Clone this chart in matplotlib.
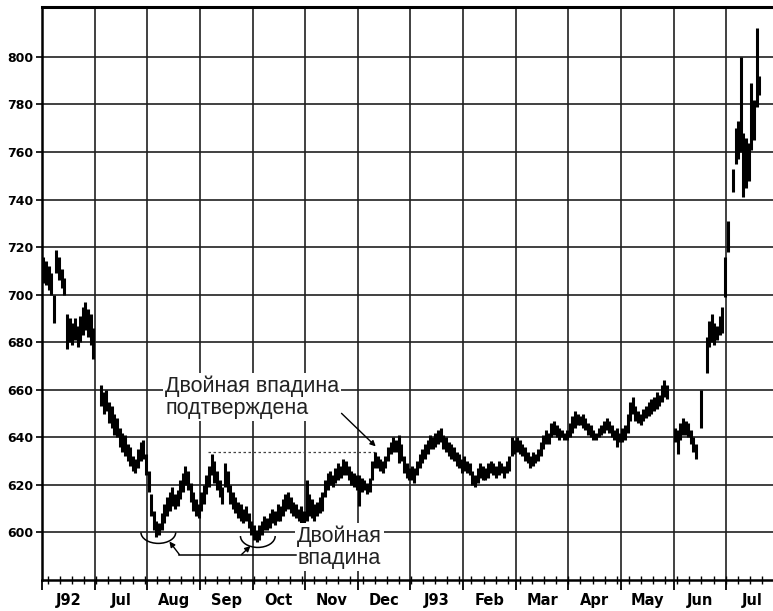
import matplotlib.pyplot as plt
import numpy as np
from matplotlib.patches import Arc

# Month labels along the bottom (June 1992 .. July 1993)
months = ['J92', 'Jul', 'Aug', 'Sep', 'Oct', 'Nov', 'Dec',
          'J93', 'Feb', 'Mar', 'Apr', 'May', 'Jun', 'Jul']

# Daily high / low, 20 slots per month (None = no bar)
jun92_hi = [716, 714, 712, 709, 700, 719, 716, 711, 707, 692, 690, 688, 690, 687, 691, 695, 697, 694, 692, 686]
jun92_lo = [705, 704, 702, 700, 688, 709, 706, 703, 700, 677, 680, 679, 681, 678, 680, 683, 685, 682, 679, 673]
jul92_hi = [None, None, 662, 659, 660, 655, 653, 650, 648, 644, 642, 641, 637, 636, 632, 631, 635, 638, 639, 633]
jul92_lo = [None, None, 653, 650, 651, 646, 644, 641, 640, 636, 634, 632, 630, 628, 626, 625, 627, 630, 631, 624]
aug92_hi = [626, 616, 609, 605, 604, 608, 612, 615, 617, 619, 616, 618, 622, 625, 628, 626, 621, 617, 614, 612]
aug92_lo = [617, 607, 601, 598, 599, 601, 604, 607, 609, 611, 610, 611, 614, 617, 620, 618, 613, 609, 607, 606]
sep92_hi = [617, 620, 624, 628, 633, 630, 626, 622, 619, 629, 626, 620, 617, 615, 613, 612, 610, 611, 608, 605]
sep92_lo = [609, 612, 616, 619, 624, 621, 618, 615, 612, 619, 617, 612, 610, 608, 606, 605, 604, 605, 602, 599]
oct92_hi = [603, 601, 603, 605, 607, 606, 608, 610, 609, 612, 611, 614, 616, 617, 615, 613, 612, 610, 611, 609]
oct92_lo = [597, 596, 597, 599, 601, 601, 602, 604, 603, 605, 605, 607, 609, 610, 608, 607, 606, 605, 604, 603]
nov92_hi = [622, 616, 614, 612, 613, 615, 617, 622, 625, 626, 624, 627, 629, 628, 631, 630, 628, 626, 625, 624]
nov92_lo = [605, 607, 606, 605, 607, 608, 609, 615, 618, 620, 619, 621, 622, 623, 624, 624, 622, 620, 619, 618]
dec92_hi = [624, 623, 622, 621, 623, 630, 634, 632, 631, 630, 632, 636, 638, 640, 639, 641, 637, 632, 629, 627]
dec92_lo = [611, 617, 618, 616, 617, 622, 627, 627, 626, 625, 627, 630, 633, 634, 634, 629, 630, 625, 623, 622]
jan93_hi = [628, 627, 630, 633, 635, 637, 639, 641, 640, 642, 643, 644, 641, 640, 638, 637, 636, 634, 633, 631]
jan93_lo = [622, 621, 624, 627, 629, 631, 633, 635, 635, 636, 637, 638, 635, 634, 632, 631, 630, 628, 627, 625]
feb93_hi = [632, 630, 629, 626, 624, 627, 629, 628, 627, 629, 630, 629, 628, 630, 629, 628, 630, 632, 640, 639]
feb93_lo = [626, 625, 624, 620, 619, 621, 623, 622, 622, 623, 625, 624, 623, 624, 625, 623, 625, 626, 632, 633]
mar93_hi = [640, 639, 637, 636, 634, 632, 634, 633, 635, 638, 641, 643, 642, 646, 647, 645, 644, 643, 642, 643]
mar93_lo = [634, 633, 632, 630, 629, 627, 628, 629, 630, 632, 635, 637, 637, 640, 641, 640, 639, 640, 639, 639]
apr93_hi = [646, 649, 651, 650, 649, 650, 648, 646, 645, 643, 642, 644, 645, 647, 648, 647, 645, 643, 644, 642]
apr93_lo = [640, 642, 644, 645, 645, 644, 643, 641, 640, 639, 639, 640, 641, 642, 643, 642, 640, 639, 636, 638]
may93_hi = [644, 645, 650, 655, 657, 653, 651, 650, 652, 653, 655, 656, 657, 659, 658, 662, 664, 662, None, None]
may93_lo = [638, 639, 642, 647, 650, 647, 646, 645, 647, 648, 649, 650, 651, 652, 653, 655, 657, 656, None, None]
jun93_hi = [644, 643, 646, 648, 647, 646, 643, 640, 637, None, 660, None, 682, 689, 692, 688, 687, 691, 695, 716]
jun93_lo = [638, 633, 639, 641, 641, 640, 637, 634, 631, None, 644, None, 667, 678, 680, 679, 681, 683, 684, 699]
jul93_hi = [731, None, 753, 770, 773, 800, 768, 766, 764, 789, 782, 812, 792]
jul93_lo = [718, None, 743, 755, 757, 760, 741, 745, 748, 761, 765, 779, 784]

highs = [jun92_hi, jul92_hi, aug92_hi, sep92_hi, oct92_hi, nov92_hi, dec92_hi,
         jan93_hi, feb93_hi, mar93_hi, apr93_hi, may93_hi, jun93_hi, jul93_hi]
lows = [jun92_lo, jul92_lo, aug92_lo, sep92_lo, oct92_lo, nov92_lo, dec92_lo,
        jan93_lo, feb93_lo, mar93_lo, apr93_lo, may93_lo, jun93_lo, jul93_lo]

SLOTS = 20  # bar slots per month

plt.rcParams['font.family'] = ['DejaVu Sans']

fig = plt.figure(figsize=(7.73, 6.11), dpi=100)
ax = fig.add_axes([42 / 773, 31 / 611, 731 / 773, 573 / 611])

# price bars
for m, (hi, lo) in enumerate(zip(highs, lows)):
    hi = np.array(hi, dtype=float)
    lo = np.array(lo, dtype=float)
    x = m + (np.arange(len(hi)) + 0.5) / SLOTS
    ok = ~np.isnan(hi)
    ax.vlines(x[ok], lo[ok], hi[ok], colors='black', lw=2.2, zorder=3)

ax.set_xlim(0, 731 / (684.3 / 13))
ax.set_ylim(580, 821)

# axes frame
for side in ['left', 'bottom']:
    ax.spines[side].set_linewidth(1.8)
ax.spines['top'].set_linewidth(2.2)
ax.spines['right'].set_visible(False)

yvals = list(range(600, 801, 20))
ax.set_yticks(yvals)
ax.set_yticklabels([str(v) for v in yvals], fontweight='bold', fontsize=9)
ax.tick_params(axis='y', direction='out', length=4, width=1.2, pad=2)

ax.set_xticks(range(0, 14))
ax.set_xticklabels([])
ax.tick_params(axis='x', which='major', direction='out', length=7, width=1.3)
weeks = np.arange(0.11, 13.9, 7 / 30.44)
ax.set_xticks(weeks, minor=True)
ax.tick_params(axis='x', which='minor', direction='inout', length=6, width=1)

ax.grid(True, which='major', color='#202020', lw=1.2)
ax.set_axisbelow(True)

for m, name in enumerate(months):
    ax.text(m + 0.5, -0.035, name, transform=ax.get_xaxis_transform(),
            ha='center', va='center', fontsize=10.5, fontweight='bold')

# double bottom annotations
box = dict(facecolor='white', edgecolor='none', pad=1.5)
ax.text(2.34, 666, 'Двойная впадина\nподтверждена', ha='left', va='top',
        fontsize=15.5, family='Liberation Sans', color='#222222',
        linespacing=1.05, bbox=box, zorder=4)
ax.text(4.85, 603, 'Двойная\nвпадина', ha='left', va='top',
        fontsize=15.5, family='Liberation Sans', color='#222222',
        linespacing=1.05, bbox=box, zorder=4)

ax.plot([3.16, 6.32], [633.8, 633.8], color='#444444', lw=0.9,
        ls=(0, (2, 2)), zorder=2)

ax.add_patch(Arc((2.21, 600), 0.66, 9.2, theta1=180, theta2=360,
                 color='black', lw=1.1, zorder=4))
ax.add_patch(Arc((4.10, 598.5), 0.66, 9.6, theta1=180, theta2=360,
                 color='black', lw=1.1, zorder=4))
ax.plot([2.61, 4.82], [590.7, 590.7], color='black', lw=1.1, zorder=4)

arrow = dict(arrowstyle='-|>', color='black', lw=1.0, mutation_scale=8,
             shrinkA=0, shrinkB=0)
ax.annotate('', xy=(2.42, 596.2), xytext=(2.61, 590.7), arrowprops=arrow,
            zorder=4)
ax.annotate('', xy=(3.96, 594.3), xytext=(3.79, 590.7), arrowprops=arrow,
            zorder=4)
ax.annotate('', xy=(6.34, 636.2), xytext=(5.69, 650.1), arrowprops=arrow,
            zorder=4)

fig.savefig('out.png', dpi=100, facecolor='white')
